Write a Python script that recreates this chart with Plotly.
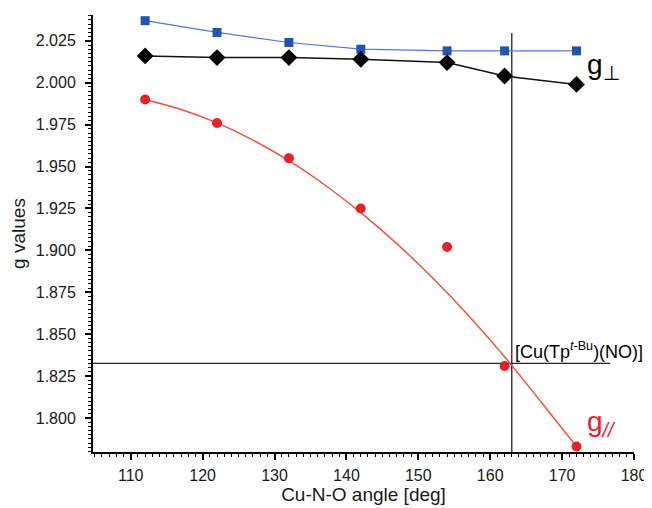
import plotly.graph_objects as go

# Data
angle = [112, 122, 132, 142, 154, 162, 172]
g_blue = [2.037, 2.030, 2.024, 2.020, 2.019, 2.019, 2.019]
g_perp = [2.016, 2.015, 2.015, 2.014, 2.012, 2.004, 1.999]
g_par = [1.990, 1.976, 1.955, 1.925, 1.902, 1.831, 1.783]

# Smooth fitted curve for g_par
fit_angle = [112, 117, 122, 127, 132, 137, 142, 147, 152, 157, 162, 167, 172]
fit_g_par = [1.9900, 1.9840, 1.9760, 1.9658, 1.9535, 1.9390, 1.9225,
             1.9040, 1.8835, 1.8610, 1.8365, 1.8100, 1.7830]

# Reference compound [Cu(Tp^t-Bu)(NO)] crosshair
ref_angle = 163
ref_g = 1.8326
hline_x = [104.75, 176.7]
vline_y = [1.7797, 2.0297]

x_range = [104.75, 180]
y_range = [1.7797, 2.0404]

FONT = "Arial, Liberation Sans, sans-serif"
BLUE_M = "#2453b0"
BLUE_L = "#5577d8"
RED_M = "#e8202a"
RED_L = "#f0503a"

fig = go.Figure()

# crosshair lines
fig.add_trace(go.Scatter(x=hline_x, y=[ref_g, ref_g], mode="lines",
                         line=dict(color="#222222", width=1.3), hoverinfo="skip"))
fig.add_trace(go.Scatter(x=[ref_angle, ref_angle], y=vline_y, mode="lines",
                         line=dict(color="#222222", width=1.3), hoverinfo="skip"))

# fitted red curve
fig.add_trace(go.Scatter(x=fit_angle, y=fit_g_par, mode="lines",
                         line=dict(color=RED_L, width=1.4, shape="spline", smoothing=1.0)))
# red points
fig.add_trace(go.Scatter(x=angle, y=g_par, mode="markers",
                         marker=dict(symbol="circle", size=10, color=RED_M, line=dict(width=0))))
# blue squares
fig.add_trace(go.Scatter(x=angle, y=g_blue, mode="lines+markers",
                         line=dict(color=BLUE_L, width=1.2),
                         marker=dict(symbol="square", size=9, color=BLUE_M, line=dict(width=0))))
# black diamonds
fig.add_trace(go.Scatter(x=angle, y=g_perp, mode="lines+markers",
                         line=dict(color="#111111", width=1.5),
                         marker=dict(symbol="diamond", size=13, color="black", line=dict(width=0))))

axis_common = dict(
    showline=True, linecolor="black", linewidth=2,
    ticks="outside", ticklen=6, tickwidth=1.5, tickcolor="black",
    showgrid=False, zeroline=False, automargin=False,
    tickfont=dict(family=FONT, size=16, color="#1a1a1a"),
)

fig.update_xaxes(range=x_range, tick0=110, dtick=10, ticklabelstandoff=2,
                 minor=dict(ticks="outside", ticklen=3, tickwidth=1, tickcolor="black", dtick=1, tick0=110),
                 title=dict(text="Cu-N-O angle [deg]", font=dict(family=FONT, size=19, color="#1a1a1a"), standoff=4),
                 **axis_common)
fig.update_yaxes(range=y_range, tick0=1.8, dtick=0.025, tickformat=".3f", ticklabelstandoff=6,
                 minor=dict(ticks="outside", ticklen=3, tickwidth=1, tickcolor="black", dtick=0.0025, tick0=1.8),
                 title=dict(text="g values", font=dict(family=FONT, size=19, color="#1a1a1a"), standoff=8),
                 **axis_common)

fig.add_annotation(x=173.2, y=2.0097, xref="x", yref="y", text="g<sub>⊥</sub>",
                   showarrow=False, xanchor="left", yanchor="middle",
                   font=dict(family=FONT, size=28, color="black"))
fig.add_annotation(x=173.2, y=1.7965, xref="x", yref="y", text="g<sub><i>//</i></sub>",
                   showarrow=False, xanchor="left", yanchor="middle",
                   font=dict(family=FONT, size=28, color=RED_M))
fig.add_annotation(x=163.2, y=1.8400, xref="x", yref="y",
                   text="[Cu(Tp<sup><i>t</i>-Bu</sup>)(NO)]",
                   showarrow=False, xanchor="left", yanchor="middle",
                   font=dict(family=FONT, size=18, color="black"))

# the page body adds an 8px offset, so the figure is sized to compensate
fig.update_layout(
    width=644, height=500,
    margin=dict(l=85, r=18, t=7, b=56),
    plot_bgcolor="white", paper_bgcolor="white",
    showlegend=False,
    font=dict(family=FONT),
)

fig.write_html("out.html")
